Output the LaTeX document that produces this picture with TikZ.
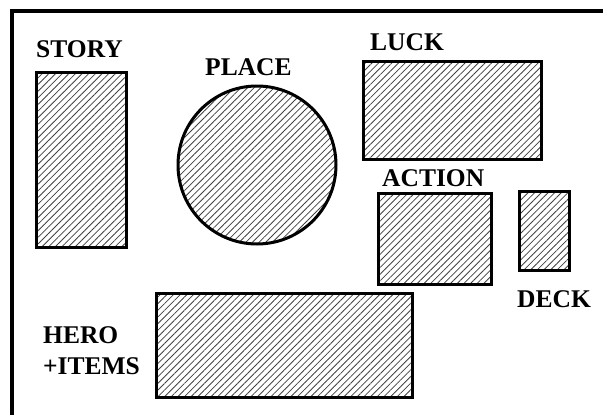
\documentclass[tikz,border=0pt]{standalone}
\usepackage{fontspec}
\setmainfont{Liberation Serif}
\usetikzlibrary{patterns.meta}
\tikzset{
  hatched/.style={draw=black, line width=3pt,
    pattern={Lines[angle=45,distance=4.7pt,line width=0.8pt]}, pattern color=black!75},
  lbl/.style={anchor=base west, inner sep=0pt, font=\fontsize{25.5}{27}\selectfont\bfseries},
  frame/.style={line width=3.2pt}
}
\begin{document}
\begin{tikzpicture}[x=1pt,y=-1pt]
\useasboundingbox (0,0) rectangle (603,415);
% frame (left and top)
\draw[frame] (12,416) -- (12,11) -- (604,11);
% shapes
\draw[hatched] (36,72) rectangle (126,247);
\draw[hatched] (257,165) circle (79);
\draw[hatched] (363,61) rectangle (541,159);
\draw[hatched] (378,193) rectangle (491,284);
\draw[hatched] (519,191) rectangle (569,270);
\draw[hatched] (156,293) rectangle (412,397);
% labels
\node[lbl] (story) at (36,57) {STORY};
\node[lbl] (place) at (205,75) {PLACE};
\node[lbl] (luck) at (370,50) {LUCK};
\node[lbl] (action) at (382,186) {ACTION};
\node[lbl] (deck) at (517,307) {DECK};
\node[lbl] (hero) at (43,343) {HERO};
\node[lbl] (items) at (43,374) {+ITEMS};
\end{tikzpicture}
\end{document}
